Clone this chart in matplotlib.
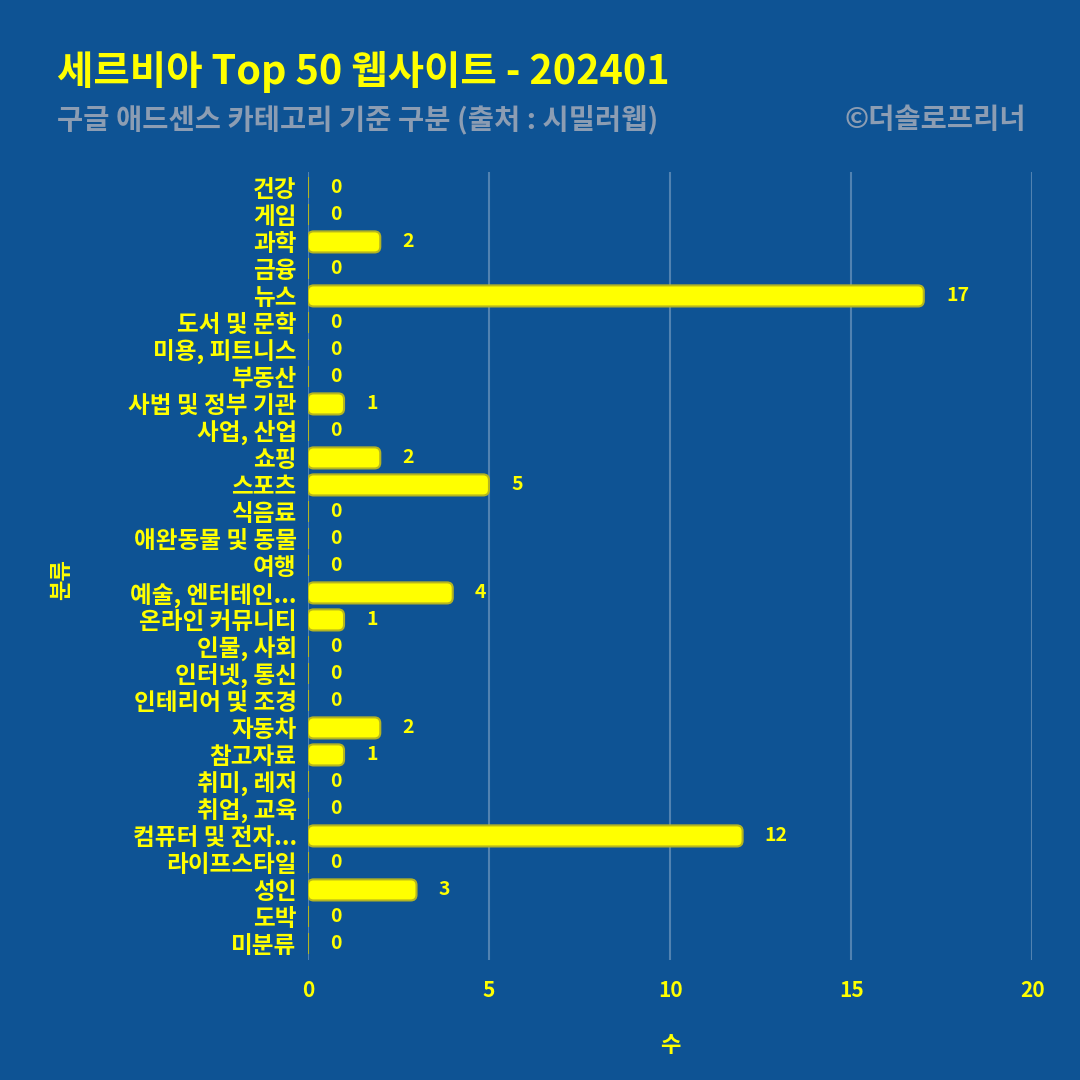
import numpy as np
import matplotlib.pyplot as plt
from matplotlib.patches import FancyBboxPatch

plt.rcParams['font.family'] = ['Noto Sans CJK KR', 'DejaVu Sans']

categories = ['건강', '게임', '과학', '금융', '뉴스', '도서 및 문학', '미용, 피트니스', '부동산',
              '사법 및 정부 기관', '사업, 산업', '쇼핑', '스포츠', '식음료', '애완동물 및 동물', '여행',
              '예술, 엔터테인...', '온라인 커뮤니티', '인물, 사회', '인터넷, 통신', '인테리어 및 조경',
              '자동차', '참고자료', '취미, 레저', '취업, 교육', '컴퓨터 및 전자...', '라이프스타일',
              '성인', '도박', '미분류']
counts = [0, 0, 2, 0, 17, 0, 0, 0, 1, 0, 2, 5, 0, 0, 0, 4, 1, 0, 0, 0, 2, 1, 0, 0, 12, 0, 3, 0, 0]
xticks = [0, 5, 10, 15, 20]

bg = '#0e5394'
yellow = '#ffff00'

fig = plt.figure(figsize=(10.8, 10.8), dpi=100, facecolor=bg)
ax = fig.add_axes([0.285, 0.111, 0.671, 0.730], facecolor=bg)

y = np.arange(len(categories))
bars = ax.barh(y, counts, height=0.78, color=yellow, edgecolor='#b5b520', linewidth=1.5, zorder=3)

# rounded bar ends (x px/unit ~36, y px/unit ~27)
for b, v in zip(bars, counts):
    if v == 0:
        continue
    b.set_visible(False)
    ax.add_patch(FancyBboxPatch((b.get_x(), b.get_y()), b.get_width(), b.get_height(),
                                boxstyle='round,pad=0,rounding_size=0.16', mutation_aspect=1.34,
                                facecolor=yellow, edgecolor='#b5b520', linewidth=1.5, zorder=3))

for yi, v in zip(y, counts):
    ax.annotate(str(v), (v, yi), xytext=(16, 0), textcoords='offset points',
                ha='left', va='center', color=yellow, fontsize=14, fontweight='bold')

ax.set_xlim(0, 20)
ax.set_ylim(len(categories) - 0.4, -0.6)
ax.set_xticks(xticks)
ax.set_yticks(y)
ax.set_yticklabels(categories)
ax.tick_params(axis='x', length=0, colors=yellow, labelsize=15, pad=14)
ax.tick_params(axis='y', length=0, colors=yellow, labelsize=17, pad=8)
for lab in ax.get_xticklabels() + ax.get_yticklabels():
    lab.set_fontweight('bold')
ax.set_axisbelow(False)
ax.grid(axis='x', color='white', linewidth=1.5, alpha=0.28, zorder=4)
for s in ax.spines.values():
    s.set_visible(False)

ax.set_xlabel('수', color=yellow, fontsize=16, fontweight='bold', labelpad=24)
fig.text(0.057, 0.463, '분류', rotation=90, color=yellow, fontsize=16,
         fontweight='bold', ha='center', va='center')

fig.text(0.053, 0.933, '세르비아 Top 50 웹사이트 - 202401', color=yellow, fontsize=28.5,
         fontweight='bold', style='italic', ha='left', va='center')
fig.text(0.053, 0.889, '구글 애드센스 카테고리 기준 구분 (출처 : 시밀러웹)', color='#8c9db3',
         fontsize=20.5, fontweight='bold', style='italic', ha='left', va='center')
fig.text(0.950, 0.889, '©더솔로프리너', color='#8c9db3', fontsize=20.5,
         fontweight='bold', style='italic', ha='right', va='center')

fig.savefig('out.png', dpi=100, facecolor=bg)
